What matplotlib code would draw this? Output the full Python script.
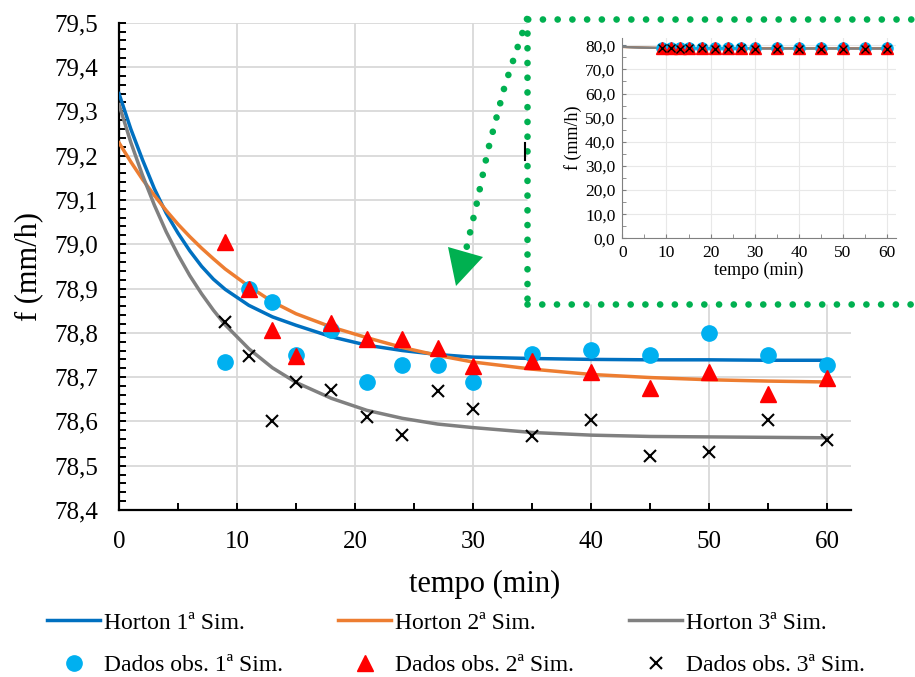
import numpy as np
import matplotlib
matplotlib.use('Agg')
import matplotlib.pyplot as plt
from matplotlib.lines import Line2D
from matplotlib.patches import Rectangle, Polygon
from matplotlib.ticker import MultipleLocator, FuncFormatter

plt.rcParams['font.family'] = ['Liberation Serif', 'DejaVu Serif']

# curvas de Horton
tCurve = [0, 1, 2, 3, 4, 5, 6, 7, 8, 9, 11, 13, 15, 18, 21, 24, 27, 30, 35, 40, 45, 50, 55, 60]
horton1 = [79.340, 79.260, 79.190, 79.125, 79.070, 79.025, 78.985, 78.950, 78.921, 78.898, 78.862, 78.836,
           78.817, 78.791, 78.772, 78.760, 78.751, 78.745, 78.742, 78.740, 78.739, 78.739, 78.738, 78.738]
horton2 = [79.229, 79.186, 79.146, 79.110, 79.076, 79.045, 79.017, 78.991, 78.967, 78.944, 78.905, 78.870,
           78.843, 78.813, 78.789, 78.767, 78.749, 78.734, 78.718, 78.706, 78.699, 78.694, 78.691, 78.689]
horton3 = [79.315, 79.230, 79.155, 79.088, 79.028, 78.976, 78.929, 78.888, 78.851, 78.818, 78.764, 78.721,
           78.688, 78.652, 78.625, 78.607, 78.594, 78.586, 78.575, 78.569, 78.566, 78.565, 78.564, 78.563]

# dados observados
tObs = [9, 11, 13, 15, 18, 21, 24, 27, 30, 35, 40, 45, 50, 55, 60]
obs1 = [78.733, 78.900, 78.870, 78.750, 78.806, 78.689, 78.727, 78.727, 78.690, 78.752, 78.762, 78.751, 78.800, 78.751, 78.727]
obs2 = [79.006, 78.900, 78.806, 78.748, 78.823, 78.785, 78.785, 78.765, 78.725, 78.737, 78.711, 78.675, 78.711, 78.661, 78.697]
obs3 = [78.825, 78.748, 78.600, 78.689, 78.670, 78.610, 78.570, 78.669, 78.629, 78.568, 78.604, 78.521, 78.532, 78.604, 78.557]

curveLabels = ['Horton 1ª Sim.', 'Horton 2ª Sim.', 'Horton 3ª Sim.']
obsLabels = ['Dados obs. 1ª Sim.', 'Dados obs. 2ª Sim.', 'Dados obs. 3ª Sim.']

W, H = 915, 677
def fx(px):
    return px / W
def fy(py):
    return 1 - py / H

fig = plt.figure(figsize=(9.15, 6.77), dpi=100)
ax = fig.add_axes([fx(119), fy(510), (850.7 - 119) / W, (510 - 22.7) / H])

hLines = []
hLines += ax.plot(tCurve, horton1, c='#0070C0', lw=2.5, label=curveLabels[0], zorder=3)
hLines += ax.plot(tCurve, horton2, c='#ED7D31', lw=2.5, label=curveLabels[1], zorder=3)
hLines += ax.plot(tCurve, horton3, c='#808080', lw=2.5, label=curveLabels[2], zorder=3)
hObs = []
hObs += ax.plot(tObs, obs1, 'o', c='#00B0F0', ms=11, label=obsLabels[0], zorder=4)
hObs += ax.plot(tObs, obs2, '^', c='#FF0000', ms=11, label=obsLabels[1], zorder=5)
hObs += ax.plot(tObs, obs3, 'x', c='black', ms=9, mew=1.5, label=obsLabels[2], zorder=6)

ax.set_xlim(0, 62)
ax.set_ylim(78.4, 79.5)
ax.xaxis.set_major_locator(MultipleLocator(10))
ax.xaxis.set_minor_locator(MultipleLocator(5))
ax.yaxis.set_major_locator(MultipleLocator(0.1))
ax.yaxis.set_minor_locator(MultipleLocator(0.02))
ax.yaxis.set_major_formatter(FuncFormatter(lambda v, p: f'{v:.1f}'.replace('.', ',')))
ax.grid(True, which='major', color='#d9d9d9', lw=1.3, zorder=0)
ax.set_axisbelow(True)
for s in ['top', 'right']:
    ax.spines[s].set_visible(False)
for s in ['left', 'bottom']:
    ax.spines[s].set_linewidth(1.6)
ax.tick_params(which='both', direction='in', width=1.4, length=5, labelsize=18)
ax.tick_params(which='major', pad=15)
ax.set_xlabel('tempo (min)', fontsize=22, labelpad=12)
ax.set_ylabel('f (mm/h)', fontsize=22, labelpad=8)

leg = fig.legend([hLines[0], hObs[0], hLines[1], hObs[1], hLines[2], hObs[2]],
                 [curveLabels[0], obsLabels[0], curveLabels[1], obsLabels[1], curveLabels[2], obsLabels[2]],
                 ncol=3, loc='upper left', bbox_to_anchor=(fx(47), fy(612)), frameon=False,
                 fontsize=17, handlelength=2.25, handletextpad=0.15, columnspacing=2.35,
                 labelspacing=0.9, borderpad=0, borderaxespad=0)

# quadro pontilhado do detalhe
frame = Rectangle((fx(527), fy(304)), fx(930) - fx(527), fy(19) - fy(304), transform=fig.transFigure,
                  facecolor='white', edgecolor='#00B050', lw=4.8, linestyle=(0, (0.01, 2.2)),
                  capstyle='round', zorder=10)
fig.patches.append(frame)

arrowX = [527, 505, 488, 476, 466]
arrowY = [19, 85, 150, 207, 250]
fig.add_artist(Line2D([fx(v) for v in arrowX], [fy(v) for v in arrowY], transform=fig.transFigure,
                      color='#00B050', lw=4.8, linestyle=(0, (0.01, 2.2)), dash_capstyle='round', zorder=10))
fig.patches.append(Polygon([(fx(448), fy(247)), (fx(483), fy(257)), (fx(456), fy(286))], closed=True,
                           transform=fig.transFigure, facecolor='#00B050', edgecolor='none', zorder=10))
fig.add_artist(Line2D([fx(525), fx(525)], [fy(143), fy(160)], transform=fig.transFigure,
                      color='black', lw=1.5, zorder=11))

# detalhe com eixo completo
axi = fig.add_axes([fx(622.3), fy(238.3), (896 - 622.3) / W, (238.3 - 38) / H], zorder=12)
axi.plot(tCurve, horton1, c='#0070C0', lw=1.5)
axi.plot(tCurve, horton2, c='#ED7D31', lw=1.5)
axi.plot(tCurve, horton3, c='#808080', lw=1.5)
axi.plot(tObs, obs1, 'o', c='#00B0F0', ms=8)
axi.plot(tObs, obs2, '^', c='#FF0000', ms=8)
axi.plot(tObs, obs3, 'x', c='black', ms=6, mew=1)
axi.set_xlim(0, 62)
axi.set_ylim(0, 83)
axi.xaxis.set_major_locator(MultipleLocator(10))
axi.xaxis.set_minor_locator(MultipleLocator(5))
axi.yaxis.set_major_locator(MultipleLocator(10))
axi.yaxis.set_minor_locator(MultipleLocator(5))
axi.yaxis.set_major_formatter(FuncFormatter(lambda v, p: f'{v:.1f}'.replace('.', ',')))
axi.grid(True, which='major', color='#e8e8e8', lw=0.8)
axi.set_axisbelow(True)
for s in ['top', 'right']:
    axi.spines[s].set_visible(False)
for s in ['left', 'bottom']:
    axi.spines[s].set_color('#808080')
axi.tick_params(which='both', direction='in', length=3, color='#808080', labelsize=12.5, pad=5)
axi.set_xlabel('tempo (min)', fontsize=13, labelpad=0)
axi.set_ylabel('f (mm/h)', fontsize=13, labelpad=2)

fig.savefig('out.png', dpi=100)
